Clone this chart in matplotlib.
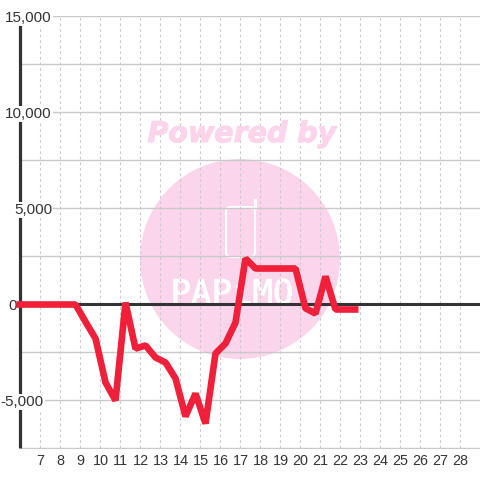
import numpy as np
import matplotlib
matplotlib.use('Agg')
import matplotlib.pyplot as plt
import matplotlib.patheffects as pe
from matplotlib.patches import Circle, FancyBboxPatch

plt.rcParams['font.family'] = ['Liberation Sans', 'DejaVu Sans']

# half hour samples, first one sits just left of the axis
hours = [5.8, 6.25, 6.75, 7.25, 7.75, 8.25, 8.75, 9.25, 9.75, 10.25, 10.75, 11.25, 11.75, 12.25, 12.75,
         13.25, 13.75, 14.25, 14.75, 15.25, 15.75, 16.25, 16.75, 17.25, 17.75, 18.25, 18.75, 19.25,
         19.75, 20.25, 20.75, 21.25, 21.75, 22.25, 22.9]
values = [0, 0, 0, 0, 0, 0, 0, -900, -1770, -4060, -5000, 100, -2300, -2130, -2760,
          -3020, -3850, -5830, -4640, -6200, -2550, -2030, -940, 2400, 1875, 1875, 1875, 1875,
          1875, -200, -470, 1460, -260, -260, -260]

x_ticks = list(range(7, 29))
y_minor = [-7500, -2500, 2500, 7500, 12500]
y_major = [-5000, 5000, 10000, 15000]
y_labels = {15000: '15,000', 10000: '10,000', 5000: '5,000', 0: '0', -5000: '-5,000'}
label_right = {15000: 52, 10000: 52, 5000: 52, 0: 16.5, -5000: 43.5}

GRID = '#cacaca'
DARK = '#333333'
PINK = '#fbd5ec'
WM_TEXT = '#fcd4ec'
RED = '#f0203a'

fig = plt.figure(figsize=(4.8, 4.8), dpi=100)
ax = fig.add_axes([20.5 / 480, 1 - 448.5 / 480, 459.5 / 480, 432 / 480])
ax.set_xlim(6, 28.975)
ax.set_ylim(-7500, 15000)
for s in ['top', 'right', 'bottom', 'left']:
    ax.spines[s].set_visible(False)
ax.tick_params(length=0)
ax.set_yticks([])
ax.set_xticks(x_ticks)
ax.set_xticklabels(x_ticks, fontsize=10.4, color=DARK)
ax.tick_params(axis='x', pad=4)


def px(x, y):
    # pixel position to data coordinates, for the watermark only
    return ax.transData.inverted().transform((x, 480 - y))


# watermark
circle = Circle((240, 480 - 259), 100, transform=None, fc=PINK, ec='none', zorder=1)
ax.add_patch(circle)
phone = FancyBboxPatch((226, 480 - 257), 29, 50, boxstyle='round,pad=0,rounding_size=5', transform=None,
                       fc='none', ec='white', lw=1.5, zorder=1.5)
ax.add_patch(phone)
ax.plot([254.5, 254.5], [480 - 208, 480 - 200], transform=None, color='white', lw=2.4, zorder=1.5)
fig.text(242 / 480, 1 - 134 / 480, 'Powered by', ha='center', va='center', fontsize=20.5,
         family='DejaVu Sans', weight='bold', style='italic', color=WM_TEXT, zorder=1.5,
         path_effects=[pe.withStroke(linewidth=0.8, foreground=WM_TEXT)])
ax.text(*px(232, 304), 'PAPiMO', ha='center', va='baseline', fontsize=24.5, family='DejaVu Sans Mono',
        color='white', zorder=1.6, clip_on=False,
        path_effects=[pe.withStroke(linewidth=0.6, foreground='white')])

# grid
ax.vlines(x_ticks, -7500, 15000, color=GRID, lw=0.8, linestyles=(0, (2.5, 2.5)), zorder=1.7)
for y in y_minor + y_major:
    ax.axhline(y, color=GRID, lw=1.0, zorder=1.8)
ax.axhline(0, color=DARK, lw=2.2, zorder=2)

# y axis line stops short of the top gridline
ax.plot([6, 6], [-7500, 14600], color=DARK, lw=2.3, solid_capstyle='butt', clip_on=False, zorder=3)

for y, lab in y_labels.items():
    xr = px(label_right[y], 0)[0]
    yr = px(0, 480 - (480 - 448.5 + (y + 7500) / 22500 * 432) + 1.5)[1]
    ax.text(xr, yr, lab, ha='right', va='center', fontsize=11, color=DARK, clip_on=False, zorder=4,
            bbox=dict(fc='white', ec='none', pad=1) if y != 0 else None)

ax.plot(hours, values, color=RED, lw=4.8, solid_joinstyle='bevel', solid_capstyle='butt', clip_on=False, zorder=5)

fig.savefig('out.png', dpi=100)
